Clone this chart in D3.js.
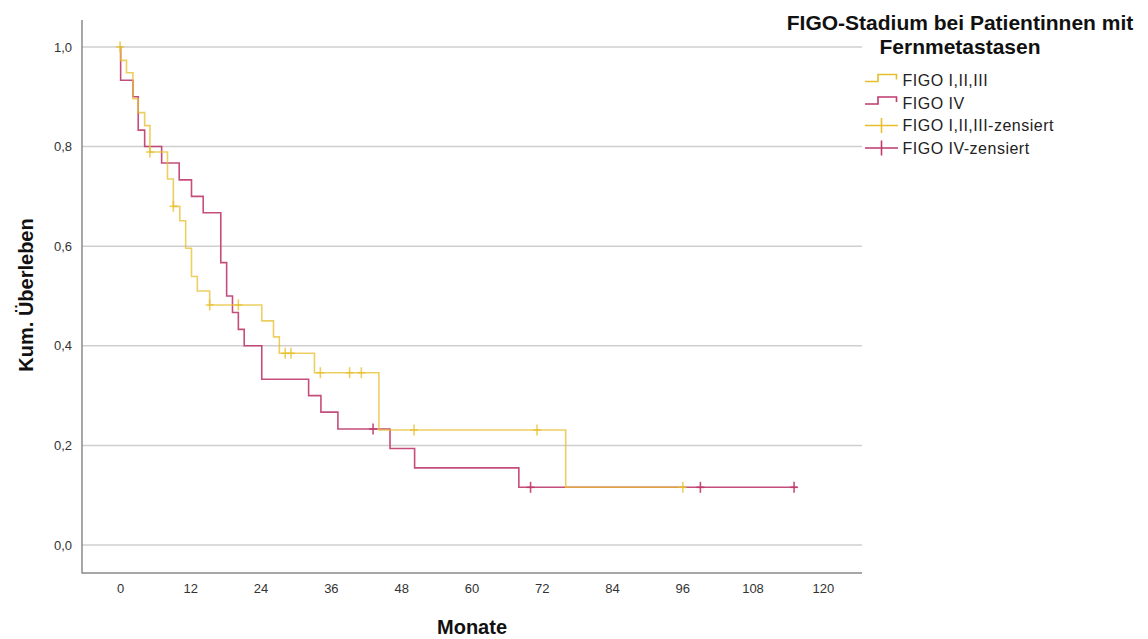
<!DOCTYPE html>
<html>
<head>
<meta charset="utf-8">
<script src="https://cdn.jsdelivr.net/npm/d3@7"></script>
<style>
  body { margin: 0; background: #fff; }
  text { font-family: "Liberation Sans", Arial, sans-serif; }
</style>
</head>
<body>
<div id="chart"></div>
<script>
var width = 1148, height = 639;

var yellowColor = "#e7bf2c";
var redColor = "#bf3a6d";
var gridColor = "#cfcfcf";
var axisColor = "#8a8a8a";

// Kaplan-Meier Stufen (Monate, kum. Ueberleben)
var figo123Time = [0, 0.1, 1.1, 2.2, 3.1, 4.2, 5.1, 8.1, 9.1, 10.2, 11.2, 12.2, 13.2, 15.3, 24.2, 26.2, 27.2, 33.2, 44.2, 76.1, 96.4];
var figo123Surv = [1, 0.973, 0.948, 0.896, 0.868, 0.842, 0.789, 0.735, 0.68, 0.651, 0.596, 0.539, 0.51, 0.482, 0.45, 0.418, 0.385, 0.346, 0.231, 0.116, 0.116];
var figo123Censor = [0, 5.1, 9.1, 15.3, 20.2, 28.2, 29.2, 34.2, 39.2, 41.2, 50.2, 71.2, 96.1];

var figo4Time = [0, 0.1, 2.2, 3.1, 4.2, 7.1, 10.1, 12.2, 14.2, 17.2, 18.2, 19.2, 20.2, 21.2, 24.2, 32.2, 34.3, 37.2, 46.1, 50.3, 68.1, 115.6];
var figo4Surv = [1, 0.933, 0.9, 0.833, 0.8, 0.767, 0.733, 0.7, 0.667, 0.567, 0.5, 0.467, 0.433, 0.4, 0.333, 0.3, 0.267, 0.233, 0.194, 0.155, 0.116, 0.116];
var figo4Censor = [43.2, 70.1, 99.1, 115.1];

var xTicks = [0, 12, 24, 36, 48, 60, 72, 84, 96, 108, 120];
var yTicks = [0, 0.2, 0.4, 0.6, 0.8, 1.0];

var legendLabels = ["FIGO I,II,III", "FIGO IV", "FIGO I,II,III-zensiert", "FIGO IV-zensiert"];

var svg = d3.select("#chart").append("svg")
    .attr("width", width)
    .attr("height", height);

var x = d3.scaleLinear().domain([-6.5, 126.7]).range([82, 862]);
var y = d3.scaleLinear().domain([-0.056, 1.054]).range([573, 20]);

// gridlines
svg.append("g").selectAll("line")
    .data(yTicks)
    .enter().append("line")
    .attr("x1", 82).attr("x2", 862)
    .attr("y1", d => y(d)).attr("y2", d => y(d))
    .attr("stroke", gridColor)
    .attr("stroke-width", 1.5);

// axes
var fmt = d => d3.format(".1f")(d).replace(".", ",");
var yAxis = svg.append("g")
    .attr("transform", "translate(82,0)")
    .call(d3.axisLeft(y).tickValues(yTicks).tickSize(0).tickPadding(10).tickFormat(fmt));
var xAxis = svg.append("g")
    .attr("transform", "translate(0,573)")
    .call(d3.axisBottom(x).tickValues(xTicks).tickSize(0).tickPadding(11));

[xAxis, yAxis].forEach(function(a) {
  a.select(".domain").remove();
  a.selectAll("text")
    .style("font-family", "'Liberation Sans', Arial, sans-serif")
    .style("font-size", "13px")
    .attr("fill", "#333");
});

svg.append("line")
    .attr("x1", 82).attr("x2", 82).attr("y1", 20).attr("y2", 573.5)
    .attr("stroke", axisColor).attr("stroke-width", 1.5);
svg.append("line")
    .attr("x1", 82).attr("x2", 862).attr("y1", 573).attr("y2", 573)
    .attr("stroke", axisColor).attr("stroke-width", 1.5);

// curves
var line = d3.line()
    .x(d => x(d[0]))
    .y(d => y(d[1]))
    .curve(d3.curveStepAfter);

function stepValue(times, surv, t) {
  var i = d3.bisectRight(times, t) - 1;
  return surv[Math.max(0, i)];
}

function drawGroup(times, surv, censor, color, opacity) {
  var pts = times.map((t, i) => [t, surv[i]]);
  svg.append("path")
      .datum(pts)
      .attr("d", line)
      .attr("fill", "none")
      .attr("stroke", color)
      .attr("stroke-opacity", opacity)
      .attr("stroke-width", 1.6);

  var c = svg.append("g").selectAll("g")
      .data(censor)
      .enter().append("g")
      .attr("transform", d => "translate(" + x(d) + "," + y(stepValue(times, surv, d)) + ")");
  c.append("line")
      .attr("x1", 0).attr("x2", 0).attr("y1", -5.5).attr("y2", 5.5)
      .attr("stroke", color).attr("stroke-opacity", opacity).attr("stroke-width", 1.6);
  c.append("line")
      .attr("x1", -4).attr("x2", 4).attr("y1", 0).attr("y2", 0)
      .attr("stroke", color).attr("stroke-opacity", opacity).attr("stroke-width", 1.6);
}

drawGroup(figo4Time, figo4Surv, figo4Censor, redColor, 0.9);
drawGroup(figo123Time, figo123Surv, figo123Censor, yellowColor, 0.75);

// axis titles
svg.append("text")
    .attr("transform", "translate(33,295) rotate(-90)")
    .attr("text-anchor", "middle")
    .style("font-size", "20px")
    .style("font-weight", "bold")
    .attr("fill", "#111")
    .text("Kum. Überleben");

svg.append("text")
    .attr("x", 472).attr("y", 634)
    .attr("text-anchor", "middle")
    .style("font-size", "20px")
    .style("font-weight", "bold")
    .attr("fill", "#111")
    .text("Monate");

// legend
var legend = svg.append("g");
legend.append("text")
    .attr("x", 960).attr("y", 30)
    .attr("text-anchor", "middle")
    .style("font-size", "21px").style("font-weight", "bold").attr("fill", "#111")
    .text("FIGO-Stadium bei Patientinnen mit");
legend.append("text")
    .attr("x", 960).attr("y", 54)
    .attr("text-anchor", "middle")
    .style("font-size", "21px").style("font-weight", "bold").attr("fill", "#111")
    .text("Fernmetastasen");

var legendColors = [yellowColor, redColor, yellowColor, redColor];
var legendY = [80.5, 103, 125.5, 148];

legendLabels.forEach(function(lab, i) {
  var g = legend.append("g").attr("transform", "translate(0," + legendY[i] + ")");
  if (i < 2) {
    g.append("path")
        .attr("d", "M865,1H878V-6H896.5V-1")
        .attr("fill", "none")
        .attr("stroke", legendColors[i]).attr("stroke-width", 1.6);
  } else {
    g.append("line").attr("x1", 865).attr("x2", 898).attr("y1", 0).attr("y2", 0)
        .attr("stroke", legendColors[i]).attr("stroke-width", 1.6);
    g.append("line").attr("x1", 881.5).attr("x2", 881.5).attr("y1", -7.5).attr("y2", 7.5)
        .attr("stroke", legendColors[i]).attr("stroke-width", 1.6);
  }
  g.append("text")
      .attr("x", 902.5).attr("y", 5.5)
      .style("font-size", "16px").style("letter-spacing", "0.5px").attr("fill", "#222")
      .text(lab);
});
</script>
</body>
</html>
